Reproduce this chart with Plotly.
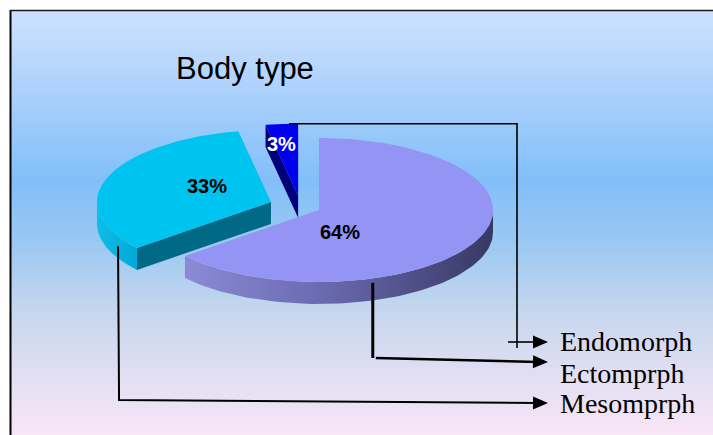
import numpy as np
import plotly.graph_objects as go

# ---- data -------------------------------------------------------------
categories = ["Ectomprph", "Mesomprph", "Endomorph"]
percent = [64, 33, 3]
legend_order = ["Endomorph", "Ectomprph", "Mesomprph"]
title_text = "Body type"

# ---- styling ------------------------------------------------------------
W, H = 713, 435
top_colors = ["#9494f4", "#00c4f0", "#0000ee"]
face_colors = ["#4a4a80", "#006a86", "#00007a"]
side_colors = [
    [[0, "#8a8ad6"], [0.45, "#6a6ab0"], [1, "#383864"]],
    [[0, "#10bce8"], [1, "#00aad8"]],
    [[0, "#000080"], [1, "#000080"]],
]
label_colors = ["black", "black", "white"]
# label placement inside each slice: (angle in degrees, fraction of radius)
label_polar = [(-69, 0.33), (149, 0.43), (97.6, 0.72)]
pulls = [0.117, 0.181, 0.15]
CX, CY = 300.6, 206.4          # pie centre (pixel space)
RX, RY, DEPTH = 174.0, 72.0, 22.0
START_ANGLE = 90.0

# leader lines: rim angle of the slice, depth fraction
leaders = {
    "Endomorph": dict(angle=93.0, dz=0.0),
    "Ectomprph": dict(angle=-72.0, dz=0.2),
    "Mesomprph": dict(angle=208.5, dz=0.45),
}
ARROW_TIP_X = 548
TEXT_X = 558
row_y = {"Endomorph": 342, "Ectomprph": 362, "Mesomprph": 403}
text_y = {"Endomorph": 341, "Ectomprph": 373, "Mesomprph": 403}

# background gradient stops (fraction of panel height, colour)
bg_stops = [
    (0.0, "#cde1fd"),
    (0.15, "#b4d5fc"),
    (0.40, "#82bff9"),
    (0.55, "#9cc8f2"),
    (0.70, "#c4d6ee"),
    (0.85, "#e0def2"),
    (1.0, "#f8e6f6"),
]

fig = go.Figure()


def hex_rgb(h):
    h = h.lstrip("#")
    return np.array([int(h[i:i + 2], 16) for i in (0, 2, 4)], float)


def gradient_at(t):
    t = min(max(t, 0.0), 1.0)
    for (t0, c0), (t1, c1) in zip(bg_stops[:-1], bg_stops[1:]):
        if t <= t1:
            f = 0 if t1 == t0 else (t - t0) / (t1 - t0)
            c = hex_rgb(c0) * (1 - f) + hex_rgb(c1) * f
            return "rgb(%d,%d,%d)" % tuple(np.round(c))
    return bg_stops[-1][1]


# ---- background panel: thin horizontal bands -----------------------------
PANEL_TOP, PANEL_LEFT = 10, 10
band = 2
for y0 in range(PANEL_TOP, H, band):
    t = (y0 + band / 2 - PANEL_TOP) / (H - PANEL_TOP)
    fig.add_shape(type="rect", x0=PANEL_LEFT, x1=W + 10, y0=y0, y1=y0 + band + 0.6,
                  fillcolor=gradient_at(t), line=dict(width=0), layer="below")


def poly(xs, ys, color=None, gradient=None):
    kw = dict(x=list(xs) + [xs[0]], y=list(ys) + [ys[0]], mode="lines",
              fill="toself", line=dict(width=0), hoverinfo="skip",
              showlegend=False)
    if gradient is not None:
        kw["fillgradient"] = dict(type="horizontal", colorscale=gradient)
        kw["fillcolor"] = gradient[0][1]
    else:
        kw["fillcolor"] = color
    fig.add_trace(go.Scatter(**kw))


def rim(apex, deg, dz=0.0):
    t = np.radians(deg)
    return apex[0] + RX * np.cos(t), apex[1] - RY * np.sin(t) + dz


# ---- slice geometry from the values --------------------------------------
total = float(sum(percent))
slices = []
a0 = START_ANGLE
for v, p in zip(percent, pulls):
    sweep = v / total * 360.0
    a1 = a0 - sweep
    mid = (a0 + a1) / 2
    m = np.radians(mid)
    apex = (CX + p * RX * np.cos(m), CY - p * RY * np.sin(m))
    slices.append(dict(a0=a0, a1=a1, mid=mid, apex=apex, value=v))
    a0 = a1


def draw_slice(i):
    s = slices[i]
    apex, a0, a1 = s["apex"], s["a0"], s["a1"]
    # radial cut faces facing the viewer
    for edge, normal in ((a0, a0 + 90), (a1, a1 - 90)):
        if np.sin(np.radians(normal)) < -0.02:
            ex, ey = rim(apex, edge)
            poly([apex[0], ex, ex, apex[0]],
                 [apex[1], ey, ey + DEPTH, apex[1] + DEPTH], face_colors[i])
    # outer wall on the front half of the ellipse
    for k in range(-2, 2):
        lo, hi = max(a1, -180 + 360 * k), min(a0, 360 * k)
        if hi - lo > 0.05:
            th = np.linspace(lo, hi, 80)
            top = [rim(apex, t) for t in th]
            bot = [rim(apex, t, DEPTH) for t in th[::-1]]
            pts = top + bot
            poly([q[0] for q in pts], [q[1] for q in pts],
                 gradient=side_colors[i])
    # top face
    th = np.linspace(a0, a1, 160)
    pts = [apex] + [rim(apex, t) for t in th]
    poly([q[0] for q in pts], [q[1] for q in pts], top_colors[i])


# back to front: small slice, left slice, big slice
for i in (2, 1, 0):
    draw_slice(i)

# ---- percentage labels ---------------------------------------------------
for i, s in enumerate(slices):
    ang, frac = label_polar[i]
    lx, ly = rim(s["apex"], ang)
    lx = s["apex"][0] + frac * (lx - s["apex"][0])
    ly = s["apex"][1] + frac * (ly - s["apex"][1])
    fig.add_annotation(x=lx, y=ly, text=f"<b>{s['value']}%</b>", showarrow=False,
                       font=dict(family="Liberation Sans", size=20,
                                 color=label_colors[i]),
                       xanchor="center", yanchor="middle")

# ---- leader lines and legend --------------------------------------------
def line(xs, ys, width=2.0):
    fig.add_trace(go.Scatter(x=xs, y=ys, mode="lines",
                             line=dict(color="black", width=width),
                             hoverinfo="skip", showlegend=False))


def arrow_head(x_from, y_from, x_tip, y_tip, length=15, half=6.5):
    d = np.array([x_tip - x_from, y_tip - y_from], float)
    d /= np.linalg.norm(d)
    n = np.array([-d[1], d[0]])
    base = np.array([x_tip, y_tip]) - d * length
    p1, p2 = base + n * half, base - n * half
    poly([x_tip, p1[0], p2[0]], [y_tip, p1[1], p2[1]], "black")


idx = {c: i for i, c in enumerate(categories)}

# Endomorph: over the top, down the right, short tick into the arrow
s = slices[idx["Endomorph"]]
sx, sy = rim(s["apex"], leaders["Endomorph"]["angle"])
ELBOW_X = 517
line([sx, ELBOW_X, ELBOW_X], [sy, sy, row_y["Endomorph"] + 6], 1.6)
line([ELBOW_X - 9, ARROW_TIP_X - 10], [row_y["Endomorph"]] * 2, 1.6)
arrow_head(ELBOW_X - 9, row_y["Endomorph"], ARROW_TIP_X, row_y["Endomorph"])

# Ectomprph: straight down from the big slice, then right
s = slices[idx["Ectomprph"]]
sx, sy = rim(s["apex"], leaders["Ectomprph"]["angle"],
             leaders["Ectomprph"]["dz"] * DEPTH)
line([sx, sx], [sy, row_y["Ectomprph"] - 4], 3.0)
line([sx + 3, ARROW_TIP_X - 10], [row_y["Ectomprph"] - 4, row_y["Ectomprph"]], 2.6)
arrow_head(sx + 3, row_y["Ectomprph"] - 4, ARROW_TIP_X, row_y["Ectomprph"])

# Mesomprph: down from the left slice, then along the bottom
s = slices[idx["Mesomprph"]]
sx, sy = rim(s["apex"], leaders["Mesomprph"]["angle"],
             leaders["Mesomprph"]["dz"] * DEPTH)
line([sx, sx + 1, ARROW_TIP_X - 10],
     [sy, row_y["Mesomprph"] - 3, row_y["Mesomprph"]], 2.0)
arrow_head(sx + 1, row_y["Mesomprph"] - 3, ARROW_TIP_X, row_y["Mesomprph"])

for name in legend_order:
    fig.add_annotation(x=TEXT_X, y=text_y[name], text=name, showarrow=False,
                       font=dict(family="Liberation Serif", size=28,
                                 color="black"),
                       xanchor="left", yanchor="middle")

# ---- title ---------------------------------------------------------------
fig.add_annotation(x=174, y=68, text=title_text, showarrow=False,
                   font=dict(family="Liberation Sans", size=31, color="black"),
                   xanchor="left", yanchor="middle")

# ---- panel frame ----------------------------------------------------------
fig.add_shape(type="line", x0=10.5, x1=10.5, y0=10, y1=H + 5,
              line=dict(color="black", width=2), layer="above")
fig.add_shape(type="line", x0=10, x1=W + 5, y0=10.5, y1=10.5,
              line=dict(color="#1a1a1a", width=1.5), layer="above")

fig.update_layout(
    width=W, height=H,
    margin=dict(l=0, r=0, t=0, b=0),
    paper_bgcolor="white", plot_bgcolor="white",
    showlegend=False,
    xaxis=dict(range=[0, W], visible=False, fixedrange=True),
    yaxis=dict(range=[H, 0], visible=False, fixedrange=True),
)

fig.write_html("out.html", config={"displayModeBar": False})
